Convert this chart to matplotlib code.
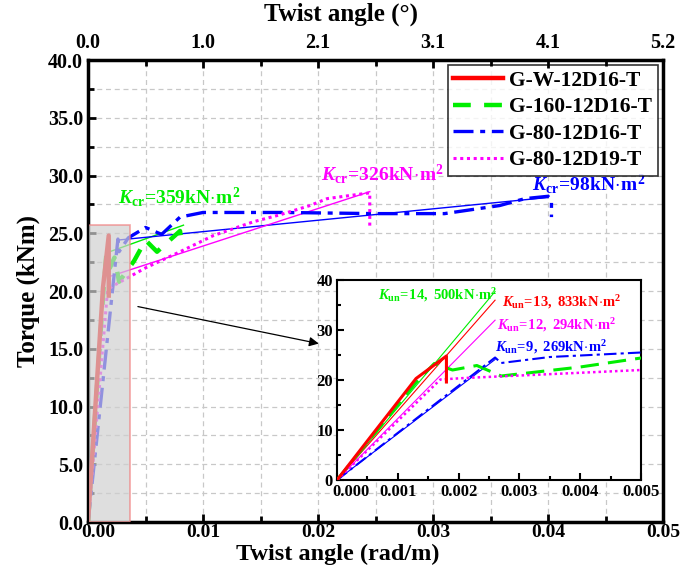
import matplotlib
matplotlib.use('Agg')
import matplotlib.pyplot as plt
import matplotlib.transforms as mtransforms
from matplotlib.patches import Rectangle
from matplotlib.ticker import MultipleLocator, FixedLocator, FixedFormatter

plt.rcParams['font.family'] = ['Liberation Serif', 'DejaVu Serif']
plt.rcParams['font.weight'] = 'bold'
plt.rcParams['mathtext.fontset'] = 'custom'
plt.rcParams['mathtext.rm'] = 'Liberation Serif:bold'
plt.rcParams['mathtext.it'] = 'Liberation Serif:bold:italic'
plt.rcParams['mathtext.bf'] = 'Liberation Serif:bold'

# Test curves (twist rad/m, torque kNm)
w_x = [0, 0.0006, 0.0013, 0.0018, 0.0018]
w_y = [0, 9.4, 20.3, 24.8, 19.6]

g160_x = [0, 0.0006, 0.0013, 0.0016, 0.0019, 0.0023, 0.0027, 0.0040, 0.0050, 0.0060, 0.0080, 0.0082]
g160_y = [0, 9.0, 19.5, 23.3, 22.0, 22.9, 20.8, 22.6, 24.4, 23.4, 25.2, 23.8]

g80_x = [0, 0.0026, 0.0027, 0.0035, 0.0050, 0.0064, 0.0080, 0.0100, 0.0170, 0.0250,
         0.0310, 0.0358, 0.0380, 0.0400, 0.0403, 0.0403]
g80_y = [0, 24.5, 23.4, 24.6, 25.5, 24.9, 26.4, 26.8, 26.8, 26.7,
         26.7, 27.4, 28.0, 28.2, 27.9, 26.4]

g8019_x = [0, 0.0017, 0.0021, 0.0050, 0.0080, 0.0109, 0.0144, 0.0167, 0.0193, 0.0208, 0.0245, 0.0245]
g8019_y = [0, 20.1, 20.4, 22.0, 23.4, 24.8, 26.0, 26.6, 27.4, 28.0, 28.5, 25.4]

# secant stiffness after cracking (main plot)
kcr_green_x = [0.0016, 0.0083]
kcr_green_y = [23.3, 25.7]
kcr_blue_x = [0.0025, 0.0025, 0.0400]
kcr_blue_y = [23.5, 24.4, 28.1]
kcr_mag_x = [0.0017, 0.0245]
kcr_mag_y = [21.2, 28.6]

# uncracked stiffness (inset), kN*m^2
kun_x_end = 0.0026
kun_vals = [14500, 13833, 12294, 9269]
kun_cols = ['#00ee00', '#ff0000', '#ff00ff', '#0000ff']

top_labels = ['0.0', '1.0', '2.1', '3.1', '4.1', '5.2']

red, green, blue, mag = '#ff0000', '#00ee00', '#0000ff', '#ff00ff'

fig = plt.figure(figsize=(6.84, 5.72), dpi=100)
ax = fig.add_axes([0.1287, 0.0874, 0.8406, 0.8077])

ax.plot(w_x, w_y, color=red, lw=3.2, label='G-W-12D16-T', zorder=5)
ax.plot(g160_x, g160_y, color=green, lw=3.2, ls=(0, (4, 3)), label='G-160-12D16-T', zorder=4)
ax.plot(g80_x, g80_y, color=blue, lw=2.4, ls=(0, (6, 2, 1.5, 2)), label='G-80-12D16-T', zorder=4)
ax.plot(g8019_x, g8019_y, color=mag, lw=2.2, ls=(0, (1, 1.2)), label='G-80-12D19-T', zorder=4)

ax.plot(kcr_green_x, kcr_green_y, color=green, lw=1.0, zorder=3)
ax.plot(kcr_blue_x, kcr_blue_y, color=blue, lw=1.0, zorder=3)
ax.plot(kcr_mag_x, kcr_mag_y, color=mag, lw=1.0, zorder=3)

ax.add_patch(Rectangle((0, 0), 0.00365, 25.7, facecolor='#d0d0d0', alpha=0.7,
                       edgecolor='#f08080', lw=1.2, zorder=6))

ax.set_xlim(0, 0.05)
ax.set_ylim(0, 40)
ax.xaxis.set_minor_locator(MultipleLocator(0.005))
ax.yaxis.set_minor_locator(MultipleLocator(2.5))
ax.set_xticks([0, 0.01, 0.02, 0.03, 0.04, 0.05])
ax.set_xticklabels(['0.00', '0.01', '0.02', '0.03', '0.04', '0.05'])
ax.set_yticks(range(0, 45, 5))
ax.set_yticklabels([f'{v:.1f}' for v in range(0, 45, 5)])
ax.grid(True, which='both', color='#c8c8c8', ls=(0, (4, 3)), lw=0.9)
ax.set_axisbelow(True)
ax.tick_params(which='both', direction='in', labelsize=14.5, width=2)
ax.tick_params(axis='x', pad=1.5, labelsize=14)
ax.tick_params(which='major', length=6)
ax.tick_params(which='minor', length=4)
for s in ax.spines.values():
    s.set_linewidth(2.5)
ax.set_xlabel('Twist angle (rad/m)', fontsize=17.5, fontweight='bold')
ax.xaxis.set_label_coords(0.435, -0.071, transform=ax.transAxes)
ax.xaxis.label.set_va('center')
ax.set_ylabel('Torque (kNm)', fontsize=18, fontweight='bold', labelpad=6)
# keep the origin labels apart
lab0 = ax.get_xticklabels()[0]
lab0.set_transform(lab0.get_transform() + mtransforms.ScaledTranslation(10 / 100, 0, fig.dpi_scale_trans))

top = ax.twiny()
top.set_xlim(ax.get_xlim())
top.xaxis.set_major_locator(FixedLocator([0, 0.01, 0.02, 0.03, 0.04, 0.05]))
top.xaxis.set_major_formatter(FixedFormatter(top_labels))
top.xaxis.set_minor_locator(MultipleLocator(0.005))
top.tick_params(which='both', direction='in', labelsize=14.5, width=2, pad=5)
top.tick_params(which='major', length=6)
top.tick_params(which='minor', length=4)
top.set_xlabel('Twist angle (°)', fontsize=18, fontweight='bold')
top.xaxis.set_label_coords(0.44, 1.099, transform=ax.transAxes)
top.xaxis.label.set_va('center')

leg = ax.legend(loc='upper right', fontsize=15.5, frameon=True, fancybox=False,
                edgecolor='black', handlelength=2.3, borderaxespad=0.25, borderpad=0.25,
                labelspacing=0.3, handletextpad=0.3)
leg.get_frame().set_linewidth(1.2)
leg.set_zorder(10)

ax.text(0.0026, 28.1, r'$K_{\rm cr}\!=\!359{\rm kN}\!\cdot\!{\rm m}^2$', color=green, fontsize=14, va='center')
ax.text(0.0203, 30.1, r'$K_{\rm cr}\!=\!326{\rm kN}\!\cdot\!{\rm m}^2$', color=mag, fontsize=14, va='center')
ax.text(0.0386, 29.3, r'$K_{\rm cr}\!=\!98{\rm kN}\!\cdot\!{\rm m}^2$', color=blue, fontsize=14, va='center')

ax.annotate('', xy=(0.0203, 15.4), xytext=(0.0041, 18.7),
            arrowprops=dict(arrowstyle='-|>', color='black', lw=0.9, mutation_scale=14), zorder=7)

# inset
ins = fig.add_axes([0.4927, 0.1608, 0.4444, 0.3497])
ins.set_facecolor('white')
ins.plot(w_x, w_y, color=red, lw=2.2, zorder=5)
ins.plot(g160_x, g160_y, color=green, lw=2.2, ls=(0, (6, 3)), zorder=4)
ins.plot(g80_x, g80_y, color=blue, lw=1.5, ls=(0, (6, 2, 1.5, 2)), zorder=4)
ins.plot(g8019_x, g8019_y, color=mag, lw=1.8, ls=(0, (1, 1.2)), zorder=4)
for k, c in zip(kun_vals, kun_cols):
    ins.plot([0, kun_x_end], [0, k * kun_x_end], color=c, lw=0.8, zorder=3)

ins.set_xlim(0, 0.005)
ins.set_ylim(0, 40)
ins.set_xticks([0, 0.001, 0.002, 0.003, 0.004, 0.005])
ins.set_xticklabels(['0.000', '0.001', '0.002', '0.003', '0.004', '0.005'])
ins.xaxis.set_minor_locator(MultipleLocator(0.0005))
ins.set_yticks([0, 10, 20, 30, 40])
ins.yaxis.set_minor_locator(MultipleLocator(5))
ins.tick_params(which='both', direction='in', labelsize=12, width=1.5, pad=3)
ins.tick_params(which='major', length=5)
ins.tick_params(which='minor', length=3)
for s in ins.spines.values():
    s.set_linewidth(1.5)
ilab0 = ins.get_xticklabels()[0]
ilab0.set_transform(ilab0.get_transform() + mtransforms.ScaledTranslation(14 / 100, 0, fig.dpi_scale_trans))

ins.text(0.00067, 37.0, r'$K_{\rm un}\!=\!14,\ 500{\rm kN}\!\cdot\!{\rm m}^2$', color=green, fontsize=10.5, va='center')
ins.text(0.00271, 35.5, r'$K_{\rm un}\!=\!13,\ 833{\rm kN}\!\cdot\!{\rm m}^2$', color=red, fontsize=10.5, va='center')
ins.text(0.00263, 31.0, r'$K_{\rm un}\!=\!12,\ 294{\rm kN}\!\cdot\!{\rm m}^2$', color=mag, fontsize=10.5, va='center')
ins.text(0.00260, 26.5, r'$K_{\rm un}\!=\!9,\ 269{\rm kN}\!\cdot\!{\rm m}^2$', color=blue, fontsize=10.5, va='center')

fig.savefig('out.png', dpi=100)
